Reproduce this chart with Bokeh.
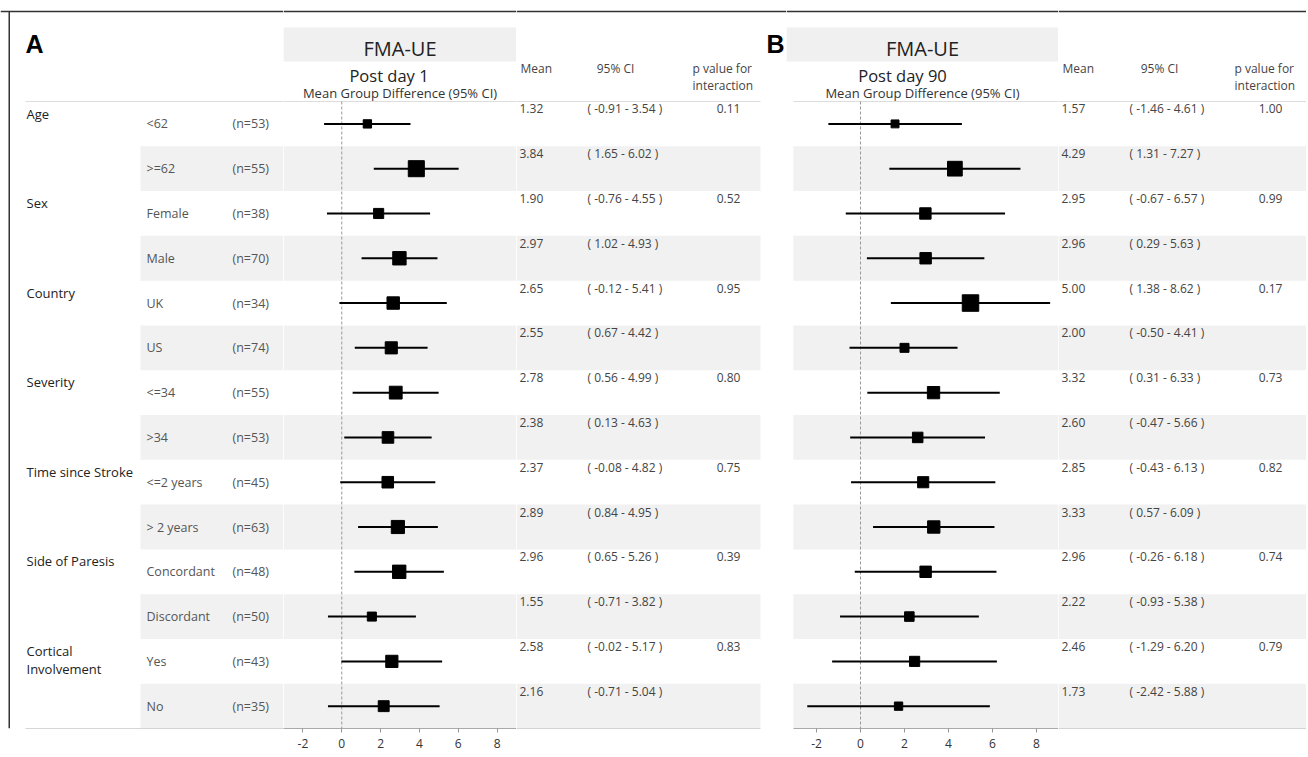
from bokeh.plotting import figure
from bokeh.layouts import row
from bokeh.models import Range1d, Span, FixedTicker
from bokeh.core.properties import value
from bokeh.embed import file_html
from bokeh.resources import INLINE

# ---------------- data ----------------
categories = ["Age", "Sex", "Country", "Severity", "Time since Stroke",
              "Side of Paresis", "Cortical\nInvolvement"]
cat_first_row = [0, 2, 4, 6, 8, 10, 12]
subgroups = ["<62", ">=62", "Female", "Male", "UK", "US", "<=34", ">34",
             "<=2 years", "> 2 years", "Concordant", "Discordant", "Yes", "No"]
n_counts = [53, 55, 38, 70, 34, 74, 55, 53, 45, 63, 48, 50, 43, 35]

mean_d1 = [1.32, 3.84, 1.90, 2.97, 2.65, 2.55, 2.78, 2.38, 2.37, 2.89, 2.96, 1.55, 2.58, 2.16]
lo_d1 = [-0.91, 1.65, -0.76, 1.02, -0.12, 0.67, 0.56, 0.13, -0.08, 0.84, 0.65, -0.71, -0.02, -0.71]
hi_d1 = [3.54, 6.02, 4.55, 4.93, 5.41, 4.42, 4.99, 4.63, 4.82, 4.95, 5.26, 3.82, 5.17, 5.04]
p_d1 = [0.11, 0.52, 0.95, 0.80, 0.75, 0.39, 0.83]

mean_d90 = [1.57, 4.29, 2.95, 2.96, 5.00, 2.00, 3.32, 2.60, 2.85, 3.33, 2.96, 2.22, 2.46, 1.73]
lo_d90 = [-1.46, 1.31, -0.67, 0.29, 1.38, -0.50, 0.31, -0.47, -0.43, 0.57, -0.26, -0.93, -1.29, -2.42]
hi_d90 = [4.61, 7.27, 6.57, 5.63, 8.62, 4.41, 6.33, 5.66, 6.13, 6.09, 6.18, 5.38, 6.20, 5.88]
p_d90 = [1.00, 0.99, 0.17, 0.73, 0.82, 0.74, 0.79]

x_ticks = [-2, 0, 2, 4, 6, 8]

# ---------------- layout helpers ----------------
FONT = value("Open Sans")
H = 756
FRAME_BOTTOM = 728
ROW_TOP = 101.0
ROW_H = 44.79
rows_idx = list(range(len(subgroups)))
shaded = [i for i in rows_idx if i % 2 == 1]


def ry(page_y):
    return -0.5 + (page_y - ROW_TOP) / ROW_H


def make_fig(width, x_range, with_axis):
    p = figure(width=width, height=H, x_range=x_range,
               y_range=Range1d(start=ry(FRAME_BOTTOM), end=ry(0)),
               output_backend="svg", toolbar_location=None,
               x_axis_location="below" if with_axis else None,
               y_axis_location=None,
               min_border_left=0, min_border_right=0, min_border_top=0,
               min_border_bottom=H - FRAME_BOTTOM)
    p.outline_line_color = None
    p.grid.visible = False
    p.background_fill_color = "white"
    p.border_fill_color = "white"
    p.add_layout(Span(location=ry(11), dimension="width",
                      line_color="#333333", line_width=1.5))
    return p


def txt(p, x, y, texts, size, color="#444444", align="left", baseline="middle",
        xo=0, yo=0, style="normal", font=FONT, lh=1.2):
    p.text(x=x, y=y, text=texts, text_font=font, text_font_size=f"{size}px",
           text_color=color, text_align=align, text_baseline=baseline,
           x_offset=xo, y_offset=yo, text_font_style=style, text_line_height=lh)


def rules(p, x0, x1, bottom=True):
    p.segment(x0=[x0], y0=[-0.5], x1=[x1], y1=[-0.5], line_color="#dddddd", line_width=1)
    if bottom:
        p.segment(x0=[x0], y0=[13.5], x1=[x1], y1=[13.5], line_color="#aaaaaa", line_width=1)


def bands(p, x0, x1):
    p.hbar(y=shaded, height=1.0, left=x0, right=x1, fill_color="#f1f1f1", line_color=None)


# ---------------- label column ----------------
lab = make_fig(283, Range1d(0, 283), False)
bands(lab, 140, 283)
rules(lab, 25, 283)
lab.segment(x0=[8.75], y0=[ry(11)], x1=[8.75], y1=[ry(FRAME_BOTTOM)],
            line_color="#333333", line_width=1.5)
txt(lab, [25], [ry(43)], ["A"], 25, color="black", style="bold",
    font=value("Liberation Sans"))
txt(lab, [26] * len(categories), [r - 0.5 for r in cat_first_row], categories, 13,
    color="#222222", baseline="top", yo=3, lh=1.0)
txt(lab, [146] * len(subgroups), rows_idx, subgroups, 12.5, color="#555555")
txt(lab, [232] * len(subgroups), rows_idx, [f"(n={n})" for n in n_counts], 12.5, color="#555555")


# ---------------- forest panels ----------------
def forest(width, xr, means, los, his, subtitle, sub_xo, line_start, s0, s1):
    p = make_fig(width, xr, True)
    p.quad(left=[xr.start], right=[xr.end], top=[ry(27)], bottom=[ry(61)],
           fill_color="#f0f0f0", line_color=None)
    cx = (xr.start + xr.end) / 2
    txt(p, [cx], [ry(48)], ["FMA-UE"], 20, color="#222222", align="center")
    txt(p, [cx], [ry(75)], [subtitle], 16.5, color="#222222", align="center", xo=sub_xo)
    txt(p, [cx], [ry(92)], ["Mean Group Difference (95% CI)"], 13, color="#333333",
        align="center")
    bands(p, line_start, xr.end)
    rules(p, line_start, xr.end, bottom=False)
    p.segment(x0=[0], y0=[-0.5], x1=[0], y1=[13.5], line_color="#999999",
              line_width=1, line_dash="3 2")
    p.segment(x0=los, y0=rows_idx, x1=his, y1=rows_idx, line_color="black", line_width=2)
    sizes = [s0 + s1 * m for m in means]
    p.scatter(x=means, y=rows_idx, marker="square", size=sizes,
              fill_color="black", line_color="black")
    ax = p.xaxis[0]
    ax.ticker = FixedTicker(ticks=x_ticks)
    ax.major_label_overrides = {t: str(t) for t in x_ticks}
    ax.bounds = (line_start, xr.end)
    ax.major_tick_in = 0
    ax.major_tick_out = 4
    ax.minor_tick_in = 0
    ax.minor_tick_out = 0
    ax.axis_line_color = "#aaaaaa"
    ax.major_tick_line_color = "#999999"
    ax.major_label_text_font = "Open Sans"
    ax.major_label_text_font_size = "12px"
    ax.major_label_text_color = "#333333"
    ax.major_label_standoff = 6
    return p


pa = forest(233, Range1d(-3, 9), mean_d1, lo_d1, hi_d1, "Post day 1", -11, -3, 4.3, 3.06)
pb = forest(272, Range1d(-74 / 22, 9), mean_d90, lo_d90, hi_d90, "Post day 90", -20, -3.05, 4.0, 2.5)


# ---------------- number columns ----------------
def numbers(width, x0, x1, band_end, means, los, his, pvals, xm, xci, xp, hdr_ci):
    p = make_fig(width, Range1d(x0, x1), False)
    bands(p, x0, band_end)
    rules(p, x0, band_end)
    txt(p, [xm], [ry(67.5)], ["Mean"], 12)
    txt(p, [hdr_ci], [ry(67.5)], ["95% CI"], 12, align="center")
    txt(p, [xp - 36, xp - 36], [ry(67.5), ry(84.5)], ["p value for", "interaction"], 12)
    txt(p, [xm - 1] * len(means), rows_idx, [f"{m:.2f}" for m in means], 12, yo=-15)
    txt(p, [xci] * len(means), rows_idx,
        [f"( {lo:.2f} - {hi:.2f} )" for lo, hi in zip(los, his)], 12, yo=-15)
    txt(p, [xp] * len(pvals), cat_first_row, [f"{v:.2f}" for v in pvals], 12,
        align="center", yo=-15)
    return p


na = numbers(270, 516, 786, 760, mean_d1, lo_d1, hi_d1, p_d1, 520, 587, 728, 615)
txt(na, [766], [ry(43)], ["B"], 25, color="black", style="bold",
    font=value("Liberation Sans"))
nb = numbers(248, 1058, 1306, 1306, mean_d90, lo_d90, hi_d90, p_d90, 1062, 1129, 1270, 1159)

layout = row(lab, pa, na, pb, nb, spacing=0)
open("out.html", "w").write(file_html(layout, INLINE))
